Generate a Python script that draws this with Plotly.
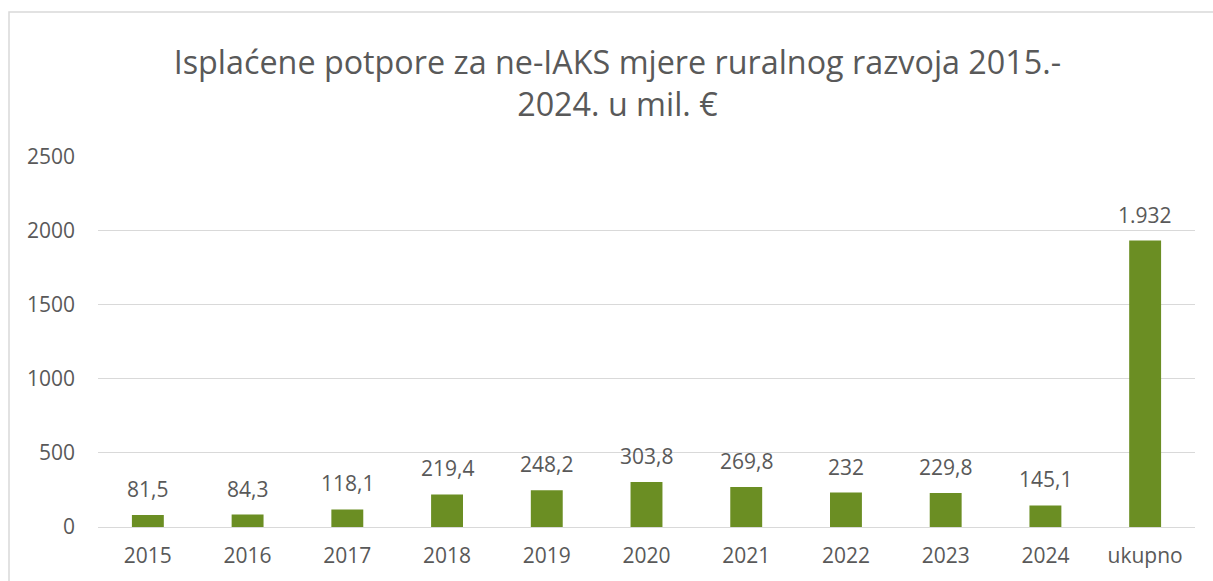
import plotly.graph_objects as go

# data
categories = ['2015', '2016', '2017', '2018', '2019', '2020', '2021', '2022', '2023', '2024', 'ukupno']
values = [81.5, 84.3, 118.1, 219.4, 248.2, 303.8, 269.8, 232, 229.8, 145.1, 1932]
value_labels = ['81,5', '84,3', '118,1', '219,4', '248,2', '303,8', '269,8', '232', '229,8', '145,1', '1.932']
y_ticks = [0, 500, 1000, 1500, 2000, 2500]

font_family = 'Open Sans'
grey = '#595959'

bars = go.Bar(
    x=categories,
    y=values,
    width=0.32,
    marker=dict(color='#6b8e23', line=dict(width=0)),
    hoverinfo='x+y',
)

fig = go.Figure(data=[bars])

# value labels sit a bit higher above the bars than plotly's own outside text;
# numeric-looking category names would be read as indices, so place by index
labels = []
for i, (val, lab) in enumerate(zip(values, value_labels)):
    labels.append(dict(
        x=i, y=val, text=lab, showarrow=False,
        yanchor='middle', yshift=26,
        font=dict(family=font_family, size=21, color=grey),
    ))

fig.update_layout(
    width=1213,
    height=581,
    paper_bgcolor='white',
    plot_bgcolor='white',
    margin=dict(l=98, r=18, t=156, b=54),
    showlegend=False,
    annotations=labels,
    title=dict(
        text='Isplaćene potpore za ne-IAKS mjere ruralnog razvoja 2015.-<br>2024. u mil. €',
        x=0.509,
        xanchor='center',
        y=0.872,
        yanchor='middle',
        font=dict(family=font_family, size=32.3, color=grey),
    ),
    xaxis=dict(
        type='category',
        range=[-0.5, len(categories) - 0.5],
        showgrid=False,
        showline=False,
        ticks='',
        ticklabelstandoff=14,
        tickfont=dict(family=font_family, size=21, color=grey),
    ),
    yaxis=dict(
        range=[0, 2502],
        tickvals=y_ticks,
        showgrid=True,
        gridcolor='#d9d9d9',
        gridwidth=1,
        zeroline=True,
        zerolinecolor='#d9d9d9',
        zerolinewidth=1,
        showline=False,
        ticks='',
        ticklabelstandoff=22,
        tickfont=dict(family=font_family, size=21, color=grey),
    ),
    # chart frame, cut off by the right and bottom edges like in the picture
    shapes=[dict(
        type='rect', xref='paper', yref='paper',
        x0=(9 - 98) / 1097, x1=(1230 - 98) / 1097,
        y0=(527 - 600) / 371, y1=(527 - 12) / 371,
        line=dict(color='#d9d9d9', width=1.5),
        fillcolor='rgba(0,0,0,0)',
        layer='below',
    )],
)

# page body has a default 8px margin; drop it so the figure fills the window
fig.write_html("out.html", config={'displayModeBar': False},
               post_script="document.body.style.margin='0';")
